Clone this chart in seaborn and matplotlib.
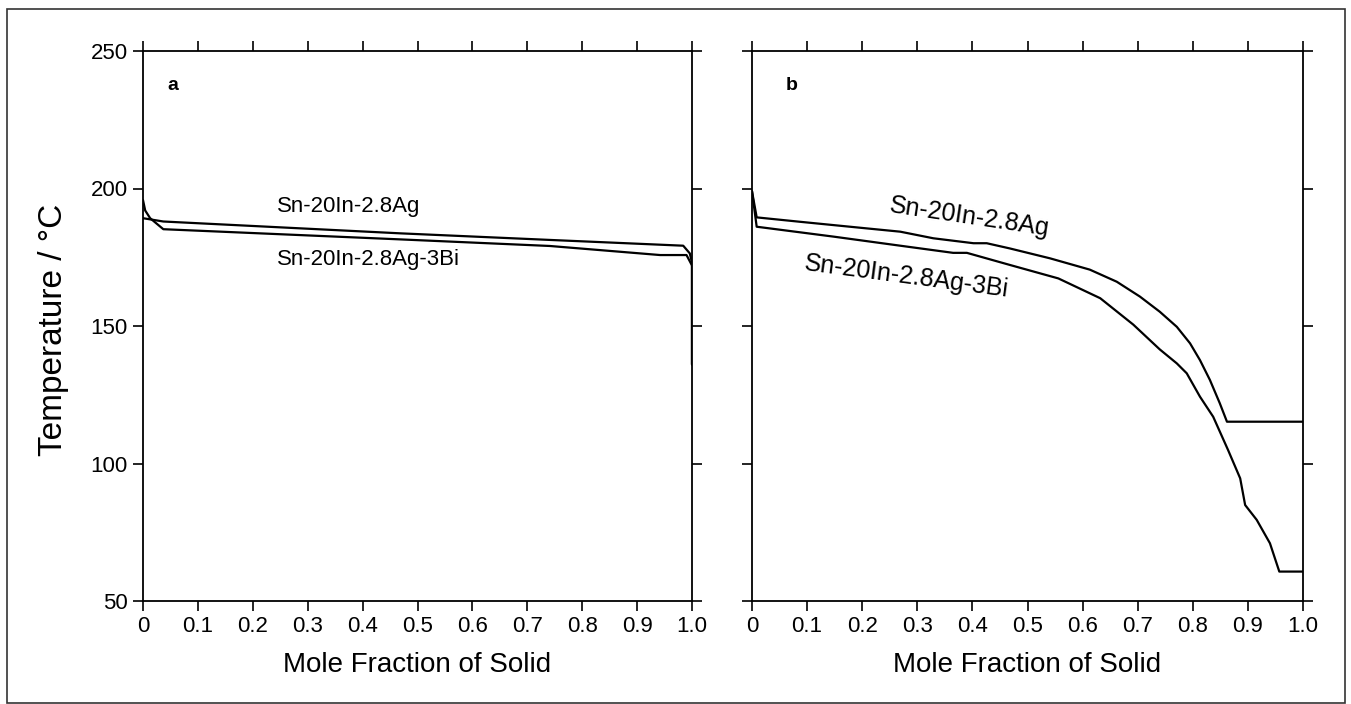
import matplotlib
matplotlib.use("Agg")
import matplotlib.pyplot as plt
import seaborn as sns
import pandas as pd
from matplotlib.patches import Rectangle

# ---- data ----
xticks = [0, 0.1, 0.2, 0.3, 0.4, 0.5, 0.6, 0.7, 0.8, 0.9, 1.0]
xtick_labels = ["0", "0.1", "0.2", "0.3", "0.4", "0.5", "0.6", "0.7", "0.8", "0.9", "1.0"]
yticks = [50, 100, 150, 200, 250]

# panel a
xa_ag = [0.0, 0.037, 0.468, 0.741, 0.984, 0.996, 1.0, 1.0]
ta_ag = [189.2, 188.0, 183.7, 181.3, 179.2, 176.4, 173.0, 136.0]
xa_bi = [0.0, 0.004, 0.013, 0.037, 0.468, 0.741, 0.942, 0.990, 1.0, 1.0]
ta_bi = [195.8, 192.0, 189.2, 185.2, 181.5, 179.1, 175.8, 175.8, 172.0, 136.0]

# panel b
xb_ag = [0.0, 0.0085, 0.087, 0.208, 0.269, 0.329, 0.402, 0.426, 0.468, 0.541, 0.613,
         0.662, 0.704, 0.740, 0.771, 0.795, 0.813, 0.831, 0.849, 0.862, 1.0]
tb_ag = [199.0, 189.5, 187.9, 185.5, 184.3, 181.9, 180.1, 180.1, 178.2, 174.6, 170.5,
         166.1, 160.7, 155.2, 149.7, 143.7, 137.6, 130.4, 121.9, 115.2, 115.2]
xb_bi = [0.0, 0.0085, 0.148, 0.269, 0.365, 0.390, 0.468, 0.556, 0.632, 0.692, 0.740,
         0.771, 0.789, 0.813, 0.837, 0.864, 0.886, 0.895, 0.916, 0.940, 0.957, 1.0]
tb_bi = [199.0, 186.1, 182.5, 179.2, 176.6, 176.6, 172.2, 167.3, 160.1, 150.5, 141.5,
         136.4, 132.8, 124.3, 117.0, 104.9, 94.6, 84.9, 79.5, 71.0, 60.7, 60.7]

label_ag = "Sn-20In-2.8Ag"
label_bi = "Sn-20In-2.8Ag-3Bi"

sns.set_theme(style="ticks")
plt.rcParams["font.family"] = ["Liberation Sans", "DejaVu Sans"]
plt.rcParams["axes.linewidth"] = 1.3
plt.rcParams["axes.edgecolor"] = "black"
plt.rcParams["text.color"] = "black"
plt.rcParams["axes.labelcolor"] = "black"
plt.rcParams["xtick.color"] = "black"
plt.rcParams["ytick.color"] = "black"

W, H = 1351, 704
fig = plt.figure(figsize=(W / 100, H / 100), dpi=100)
fig.patch.set_facecolor("white")

ax_a = fig.add_axes([143 / W, 1 - 601 / H, 549 / W, 550 / H])
ax_b = fig.add_axes([752 / W, 1 - 601 / H, 551 / W, 550 / H])


def draw(ax, x1, y1, x2, y2):
    d1 = pd.DataFrame({"x": x1, "T": y1})
    d2 = pd.DataFrame({"x": x2, "T": y2})
    sns.lineplot(data=d1, x="x", y="T", sort=False, estimator=None, color="black", lw=1.6, ax=ax)
    sns.lineplot(data=d2, x="x", y="T", sort=False, estimator=None, color="black", lw=1.6, ax=ax)


draw(ax_a, xa_ag, ta_ag, xa_bi, ta_bi)
draw(ax_b, xb_ag, tb_ag, xb_bi, tb_bi)

for ax in (ax_a, ax_b):
    ax.set_xlim(0, 1.0)
    ax.set_ylim(50, 250)
    ax.set_xticks(xticks)
    ax.set_xticklabels(xtick_labels)
    ax.set_yticks(yticks)
    ax.tick_params(axis="both", which="both", direction="out", length=7, width=1.2,
                   top=True, right=True, labelsize=16, pad=4, color="black", labelcolor="black")
    for s in ax.spines.values():
        s.set_visible(True)
        s.set_color("black")
        s.set_linewidth(1.3)
    ax.set_xlabel("Mole Fraction of Solid", fontsize=20, color="black")
    ax.xaxis.label.set_va("center")
    ax.xaxis.set_label_coords(0.5, (601 - 665) / 550)
    ax.set_ylabel("")
    ax.set_facecolor("white")
    ax.grid(False)

ax_b.tick_params(axis="y", labelleft=False)
ax_a.set_ylabel("Temperature / °C", fontsize=24, color="black")
ax_a.yaxis.label.set_va("center")
ax_a.yaxis.label.set_ha("center")
ax_a.yaxis.set_label_coords((54 - 143) / 549, (601 - 330) / 550)

# panel letters
ax_a.text(0.045, 237.6, "a", fontsize=14, fontweight="bold", ha="left", va="center", color="black")
ax_b.text(0.062, 237.6, "b", fontsize=14, fontweight="bold", ha="left", va="center", color="black")

# curve labels
ax_a.text(0.2435, 193.4, label_ag, fontsize=16, ha="left", va="center", color="black")
ax_a.text(0.2435, 174.0, label_bi, fontsize=16, ha="left", va="center", color="black")
ax_b.text(0.394, 189.5, label_ag, fontsize=18, ha="center", va="center", rotation=-8.5,
          rotation_mode="anchor", color="black")
ax_b.text(0.280, 168.0, label_bi, fontsize=18, ha="center", va="center", rotation=-7.5,
          rotation_mode="anchor", color="black")

# outer frame
fig.patches.append(Rectangle((7 / W, 1 / H), (1345 - 7) / W, (703 - 9) / H,
                             transform=fig.transFigure, fill=False, edgecolor="#333333", lw=1.2))

fig.savefig("out.png", dpi=100, facecolor="white")
